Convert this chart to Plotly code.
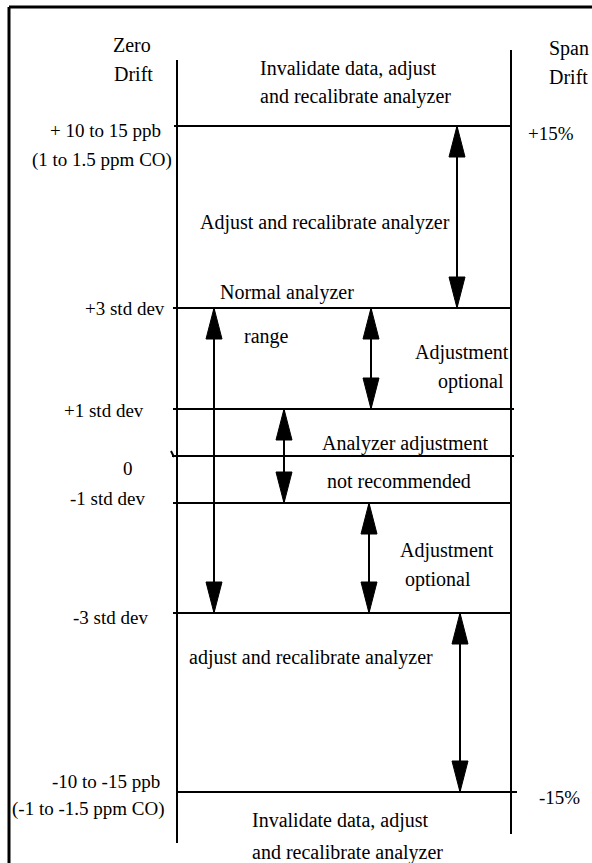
import plotly.graph_objects as go

W, H = 592, 863
FONT = "Liberation Serif, Times New Roman, Times, serif"
FS = 20        # descriptive text
FS_LABEL = 19  # level labels (slightly narrower in the reference)

# ---- diagram data (positions in diagram units, y measured downward) ----
level_keys = ["p10", "p3", "p1", "zero", "m1", "m3", "m10"]
level_y = [126, 308, 409, 456, 503, 613, 792]
level_x0 = [174, 173, 173, 172, 173, 173, 177]
level_x1 = [512, 512, 514, 514, 511, 512, 517]

# zero-drift axis (left) and span-drift axis (right)
axis_x = [177, 511]
axis_y0 = [60, 50]
axis_y1 = [843, 834]

# double-headed arrows: x position and (from level, to level)
arrow_x = [457, 214, 371, 284, 369, 460]
arrow_from = [0, 1, 1, 2, 4, 5]
arrow_to = [1, 5, 2, 4, 5, 6]
HEAD_W, HEAD_L = 8, 31

# left-side labels (right aligned)
left_text = ["+ 10 to 15 ppb", "(1 to 1.5 ppm CO)", "+3 std dev", "+1 std dev",
             "0", "-1 std dev", "-3 std dev", "-10 to -15 ppb", "(-1 to -1.5 ppm CO)"]
left_x = [163, 174, 167, 146, 135, 147, 150, 162, 167]
left_y = [130, 160, 308, 410, 468, 498, 617, 781, 809]

# column headers (centered)
head_text = ["Zero", "Drift"]
head_x = [132, 133]
head_y = [45, 74]

# right-side labels (left aligned)
right_text = ["Span", "Drift", "+15%", "-15%"]
right_x = [547, 547, 526, 537]
right_y = [48, 77, 133, 797]
right_fs = [FS, FS, FS_LABEL, FS_LABEL]

# region descriptions (left aligned)
zone_text = ["Invalidate data, adjust", "and recalibrate analyzer",
             "Adjust and recalibrate analyzer",
             "Normal analyzer", "range",
             "Adjustment", "optional",
             "Analyzer adjustment", "not recommended",
             "Adjustment", "optional",
             "adjust and recalibrate analyzer",
             "Invalidate data, adjust", "and recalibrate analyzer"]
zone_x = [258, 258, 198, 218, 242, 413, 436, 320, 325, 398, 403, 187, 250, 250]
zone_y = [68, 96, 222, 292, 336, 352, 381, 443, 481, 550, 579, 657, 820, 852]

fig = go.Figure()
shapes = []

# outer frame (top and left edges)
shapes.append(dict(type="line", x0=9, x1=W, y0=7, y1=7, line=dict(color="black", width=3)))
shapes.append(dict(type="line", x0=9, x1=9, y0=7, y1=H, line=dict(color="black", width=3)))

for x, a, b in zip(axis_x, axis_y0, axis_y1):
    shapes.append(dict(type="line", x0=x, x1=x, y0=a, y1=b, line=dict(color="black", width=2)))

for y, a, b in zip(level_y, level_x0, level_x1):
    shapes.append(dict(type="line", x0=a, x1=b, y0=y, y1=y, line=dict(color="black", width=2)))

# small break mark on the zero line
zi = level_keys.index("zero")
shapes.append(dict(type="line", x0=level_x0[zi] - 1, x1=level_x0[zi] + 2,
                   y0=level_y[zi] - 5, y1=level_y[zi] + 1, line=dict(color="black", width=2)))

for x, f, t in zip(arrow_x, arrow_from, arrow_to):
    y0, y1 = level_y[f], level_y[t]
    shapes.append(dict(type="line", x0=x, x1=x, y0=y0, y1=y1, line=dict(color="black", width=2)))
    for tip, base in ((y0, y0 + HEAD_L), (y1, y1 - HEAD_L)):
        fig.add_trace(go.Scatter(
            x=[x, x - HEAD_W, x + HEAD_W, x], y=[tip, base, base, tip],
            mode="lines", fill="toself", fillcolor="black",
            line=dict(color="black", width=1), hoverinfo="skip", showlegend=False))

ann = []
def add(texts, xs, ys, anchor, sizes):
    for t, x, y, s in zip(texts, xs, ys, sizes):
        ann.append(dict(text=t, x=x, y=y, xref="x", yref="y", showarrow=False,
                        xanchor=anchor, yanchor="middle",
                        font=dict(family=FONT, size=s, color="black")))

add(left_text, left_x, left_y, "right", [FS_LABEL] * len(left_text))
add(head_text, head_x, head_y, "center", [FS] * len(head_text))
add(right_text, right_x, right_y, "left", right_fs)
add(zone_text, zone_x, zone_y, "left", [FS] * len(zone_text))

fig.update_layout(
    width=W, height=H, margin=dict(l=0, r=0, t=0, b=0),
    paper_bgcolor="white", plot_bgcolor="white",
    xaxis=dict(range=[0, W], visible=False, fixedrange=True),
    yaxis=dict(range=[H, 0], visible=False, fixedrange=True),
    shapes=shapes, annotations=ann, showlegend=False,
)

fig.write_html(
    "out.html",
    config={"displayModeBar": False},
    post_script="document.body.style.margin='0';document.body.style.overflow='hidden';",
)
